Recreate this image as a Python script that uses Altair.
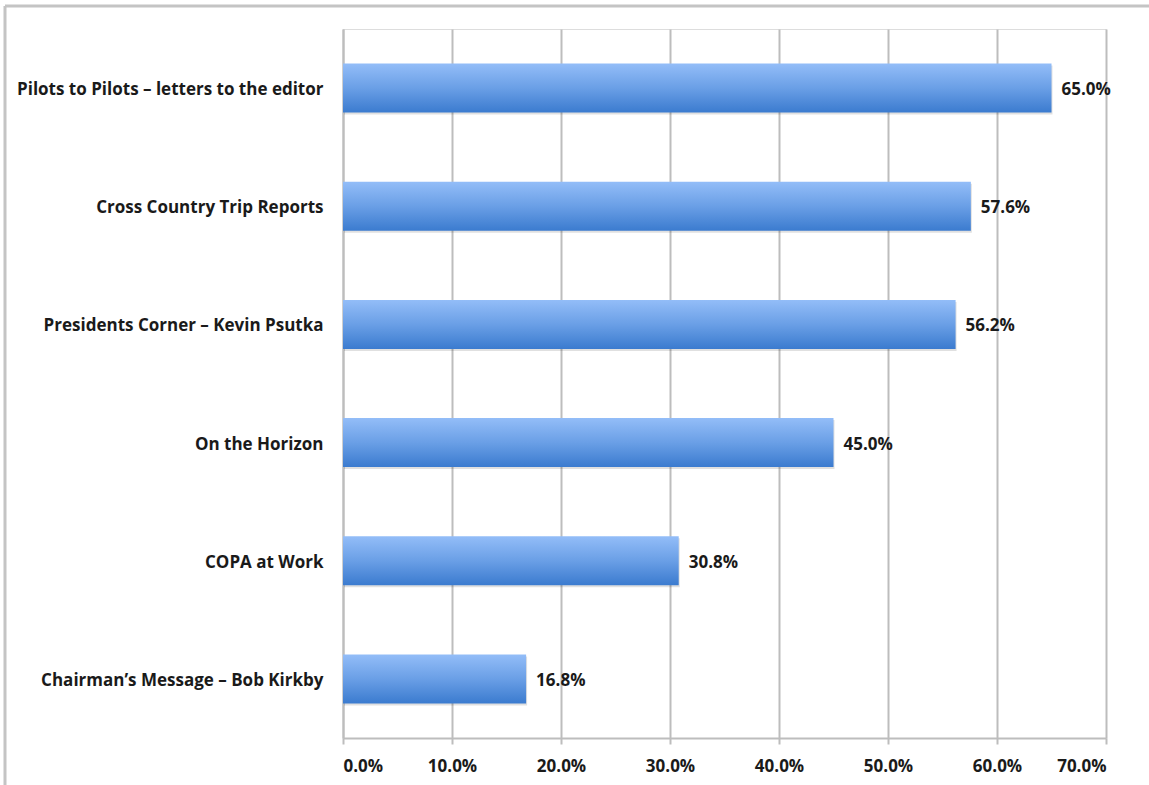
import altair as alt
import pandas as pd

categories = [
    "Pilots to Pilots – letters to the editor",
    "Cross Country Trip Reports",
    "Presidents Corner – Kevin Psutka",
    "On the Horizon",
    "COPA at Work",
    "Chairman’s Message – Bob Kirkby",
]
values = [0.650, 0.576, 0.562, 0.450, 0.308, 0.168]
x_ticks = [0.0, 0.1, 0.2, 0.3, 0.4, 0.5, 0.6, 0.7]

df = pd.DataFrame({"category": categories, "value": values})

FONT = "Open Sans"
W, H = 763, 709

grad = alt.Gradient(
    gradient="linear",
    stops=[
        alt.GradientStop(color="#93bdf8", offset=0),
        alt.GradientStop(color="#6a9fe6", offset=0.5),
        alt.GradientStop(color="#3b7bcf", offset=1),
    ],
    x1=0, x2=0, y1=0, y2=1,
)

y_enc = alt.Y(
    "category:N",
    sort=None,
    scale=alt.Scale(paddingInner=0.585, paddingOuter=0.2925),
    axis=alt.Axis(
        title=None,
        labelFont=FONT,
        labelFontSize=17,
        labelFontWeight="bold",
        labelColor="#1a1a1a",
        labelPadding=20,
        labelOffset=2,
        ticks=False,
        domainColor="#bdbdbd",
        domainWidth=2,
        grid=False,
        labelLimit=400,
    ),
)

x_enc = alt.X(
    "value:Q",
    scale=alt.Scale(domain=[0, 0.7], nice=False, zero=True),
    axis=alt.Axis(
        title=None,
        values=x_ticks,
        format=".1%",
        labelFont=FONT,
        labelFontSize=17,
        labelFontWeight="bold",
        labelColor="#1a1a1a",
        labelPadding=14,
        domainColor="#bdbdbd",
        domainWidth=2,
        tickColor="#bdbdbd",
        tickWidth=2,
        tickSize=6,
        grid=True,
        gridColor="#bdbdbd",
        gridWidth=2,
    ),
)

shadow = alt.Chart(df).mark_bar(color="#000000", opacity=0.12, yOffset=2, xOffset=1).encode(
    x="value:Q", y=alt.Y("category:N", sort=None)
)

bars = alt.Chart(df).mark_bar(color=grad).encode(x=x_enc, y=y_enc)

text = alt.Chart(df).mark_text(
    align="left", baseline="middle", dx=10, dy=2, font=FONT, fontSize=17,
    fontWeight="bold", color="#1a1a1a"
).encode(
    x="value:Q",
    y=alt.Y("category:N", sort=None),
    text=alt.Text("value:Q", format=".1%"),
)

frame = pd.DataFrame({"k": [0]})
top_border = alt.Chart(frame).mark_rule(color="#c4c4c4", strokeWidth=3, clip=False).encode(
    x=alt.value(-338), x2=alt.value(1149 - 343), y=alt.value(-23)
)
left_border = alt.Chart(frame).mark_rule(color="#c4c4c4", strokeWidth=3, clip=False).encode(
    x=alt.value(-338), y=alt.value(-23), y2=alt.value(785 - 29)
)

chart = alt.layer(shadow, bars, text, top_border, left_border).properties(
    width=W,
    height=H,
    autosize=alt.AutoSizeParams(type="none"),
    padding={"left": 343, "top": 29, "right": 1149 - 343 - W, "bottom": 785 - 29 - H},
).configure_view(stroke=None).configure(background="white")

chart.save("out.html", embed_options={"renderer": "svg", "actions": False})
